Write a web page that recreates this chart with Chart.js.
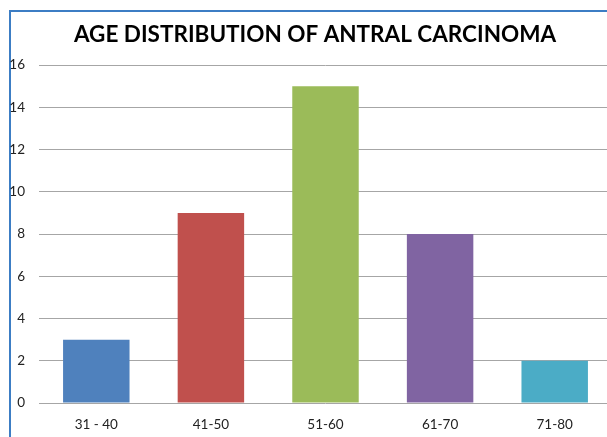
<!DOCTYPE html>
<html>
<head>
<meta charset="utf-8">
<script src="https://cdn.jsdelivr.net/npm/chart.js@4"></script>
<style>
  html, body { margin: 0; padding: 0; background: #ffffff; overflow: hidden; width: 607px; height: 437px; }
  canvas { display: block; }
</style>
</head>
<body>
<canvas id="c" width="612" height="437"></canvas>
<script>
const categories = ["31 - 40", "41-50", "51-60", "61-70", "71-80"];
const counts = [3, 9, 15, 8, 2];
const barColors = ["#4F81BD", "#C0504D", "#9BBB59", "#8064A2", "#4BACC6"];
const chartTitle = "AGE DISTRIBUTION OF ANTRAL CARCINOMA";
const yMin = 0, yMax = 16, yStep = 2;

const frame = {
  id: 'frame',
  beforeDraw(chart) {
    const ctx = chart.ctx;
    ctx.save();
    ctx.fillStyle = '#ffffff';
    ctx.fillRect(0, 0, chart.width, chart.height);
    ctx.strokeStyle = '#3C7DC4';
    ctx.lineWidth = 2;
    ctx.beginPath();
    ctx.moveTo(10, chart.height + 5);
    ctx.lineTo(10, 11);
    ctx.lineTo(chart.width + 5, 11);
    ctx.stroke();
    ctx.restore();
  },
  afterDraw(chart) {
    const ctx = chart.ctx;
    ctx.save();
    ctx.fillStyle = '#000000';
    ctx.font = 'bold 22.5px Lato';
    ctx.textAlign = 'center';
    ctx.textBaseline = 'middle';
    ctx.fillText(chartTitle, 315, 35);
    ctx.restore();
  }
};

new Chart(document.getElementById('c'), {
  type: 'bar',
  data: {
    labels: categories,
    datasets: [{
      data: counts,
      backgroundColor: barColors,
      borderWidth: 0,
      categoryPercentage: 1.0,
      barPercentage: 0.58
    }]
  },
  plugins: [frame],
  options: {
    responsive: false,
    animation: false,
    layout: { padding: { left: 0, right: 0, top: 65, bottom: 0 } },
    plugins: {
      legend: { display: false },
      tooltip: { enabled: false },
      title: { display: false }
    },
    scales: {
      x: {
        grid: { display: false, drawTicks: false, drawOnChartArea: false },
        border: { display: false },
        ticks: { color: '#222222', font: { family: 'Lato', size: 13.5 }, padding: 14 },
        afterFit(scale) { scale.height = 34; }
      },
      y: {
        min: yMin, max: yMax,
        grid: { color: '#a6a6a6', lineWidth: 1, drawTicks: false },
        border: { display: false },
        ticks: { stepSize: yStep, color: '#222222', font: { family: 'Lato', size: 13.5 }, padding: 14 },
        afterFit(scale) { scale.width = 39; }
      }
    }
  }
});
</script>
</body>
</html>
